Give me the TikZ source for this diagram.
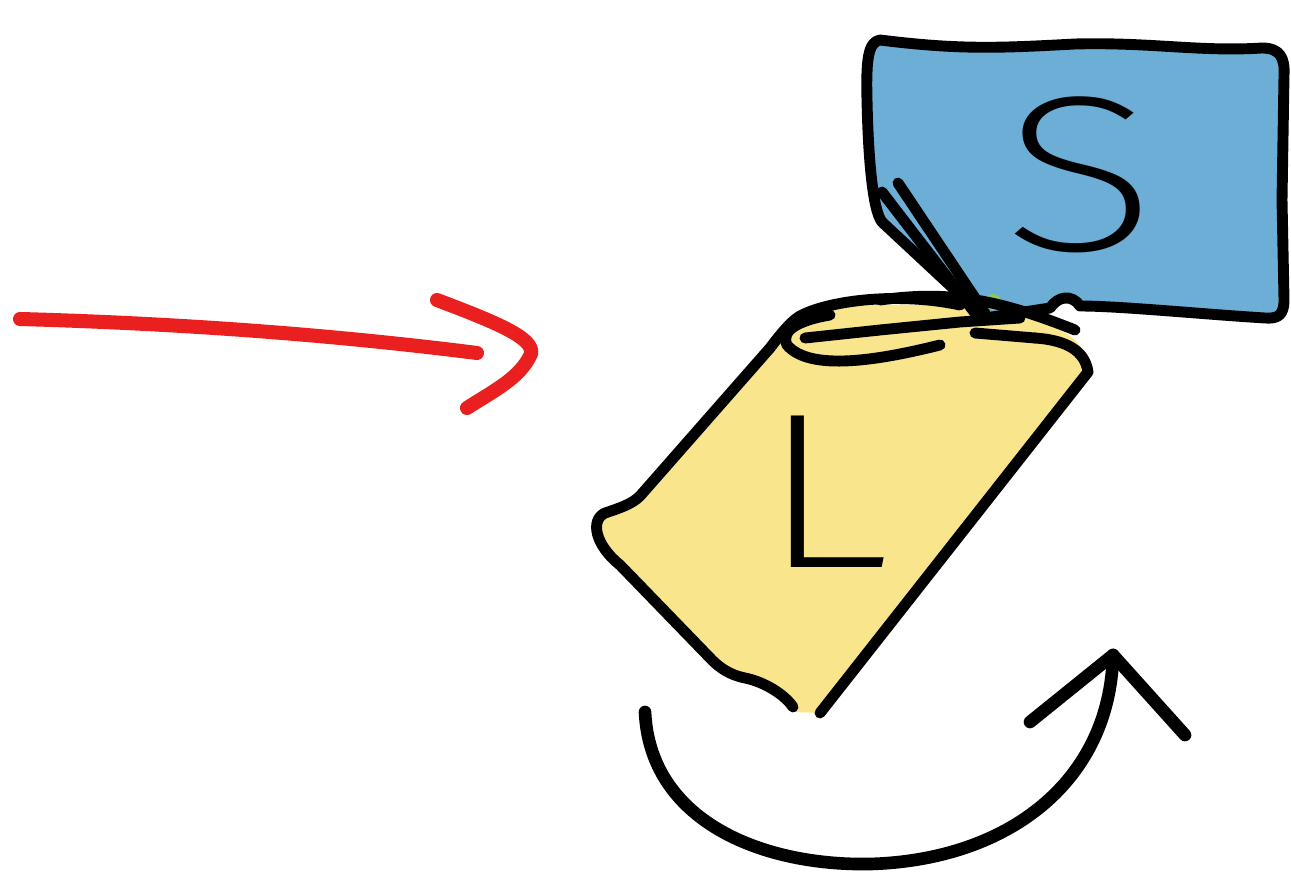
\documentclass[tikz,border=0pt]{standalone}
\usepackage{fontspec}
\newfontfamily\handfont{Fira Sans ExtraLight}
\definecolor{sblue}{RGB}{108,174,214}
\definecolor{lyellow}{RGB}{248,229,140}
\definecolor{penred}{RGB}{234,32,32}
\definecolor{sgreen}{RGB}{140,200,90}
\tikzset{
  outline/.style={draw=black, line width=3.1pt, line cap=round, line join=round},
  redpen/.style={draw=penred, line width=4pt, line cap=round, line join=round},
  blackpen/.style={draw=black, line width=3.6pt, line cap=round, line join=round},
  letter/.style={font=\handfont\fontsize{63}{63}\selectfont, inner sep=0pt, text=black}
}
\begin{document}
\begin{tikzpicture}[x=0.01cm, y=-0.01cm]
\useasboundingbox (0,0) rectangle (1291,882);
% yellow fill
\fill[lyellow] (793,712) .. controls (785,695) and (765,682) .. (745,678)
  .. controls (730,675) and (720,668) .. (712,660) -- (620,565)
  .. controls (595,545) and (590,520) .. (605,513)
  .. controls (620,508) and (632,504) .. (640,496) -- (770,348)
  .. controls (780,335) and (790,322) .. (800,316)
  .. controls (850,298) and (1000,300) .. (1060,330)
  .. controls (1080,340) and (1088,355) .. (1088,372) -- (820,713) -- cycle;
% blue box
\draw[outline, fill=sblue]
  (880,40) .. controls (960,50) and (1000,48) .. (1075,44)
  .. controls (1150,42) and (1200,52) .. (1262,48)
  .. controls (1280,48) and (1285,58) .. (1284,75)
  -- (1282,200) -- (1284,300)
  .. controls (1284,315) and (1278,319) .. (1265,318)
  .. controls (1200,314) and (1120,306) .. (1080,306)
  .. controls (1072,294) and (1058,296) .. (1050,308)
  -- (985,318) -- (882,222)
  .. controls (872,210) and (868,150) .. (867,100)
  .. controls (866,60) and (868,42) .. (880,40) -- cycle;
\draw[outline] (882,192) -- (975,313);
\draw[outline] (898,183) -- (985,313);
\fill[sgreen] (993,302) circle (8);
% yellow outline
\draw[outline] (793,707) .. controls (785,695) and (765,682) .. (745,678)
  .. controls (730,675) and (720,668) .. (712,660) -- (620,565)
  .. controls (595,545) and (590,520) .. (605,513)
  .. controls (620,508) and (632,504) .. (640,496) -- (770,348)
  .. controls (780,335) and (790,322) .. (800,316)
  .. controls (830,300) and (900,292) .. (960,305);
\draw[outline] (940,345) .. controls (880,360) and (810,372) .. (787,345) .. controls (780,330) and (800,320) .. (830,315);
\draw[outline] (805,338) -- (880,330) -- (960,322) -- (1020,318);
\draw[outline] (880,300) .. controls (950,290) and (1000,300) .. (1075,330);
\draw[outline] (975,333) -- (1035,338);
\draw[outline] (1035,338) .. controls (1065,340) and (1085,350) .. (1088,372) -- (820,713);
% letters
\node[letter, xscale=1.3] (S) at (1080,175) {S};
\node[letter, xscale=1.25] (L) at (825,492) {L};
% red arrow
\coordinate (redstart) at (20,319);
\coordinate (redend) at (477,353);
\coordinate (redtop) at (437,300);
\coordinate (redtip) at (531,354);
\coordinate (redbot) at (467,408);
\draw[redpen] (redstart) .. controls (200,324) and (350,337) .. (redend);
\draw[redpen] (redtop) .. controls (495,322) and (535,338) .. (redtip) .. controls (520,378) and (495,390) .. (redbot);
% rotation arrow
\coordinate (rotstart) at (645,712);
\coordinate (rottip) at (1113,655);
\coordinate (rotleft) at (1030,722);
\coordinate (rotright) at (1185,735);
\draw[blackpen] (rotstart) .. controls (650,820) and (760,866) .. (870,864) .. controls (1010,860) and (1110,780) .. (rottip);
\draw[blackpen] (rotleft) -- (rottip) -- (rotright);
\end{tikzpicture}
\end{document}
